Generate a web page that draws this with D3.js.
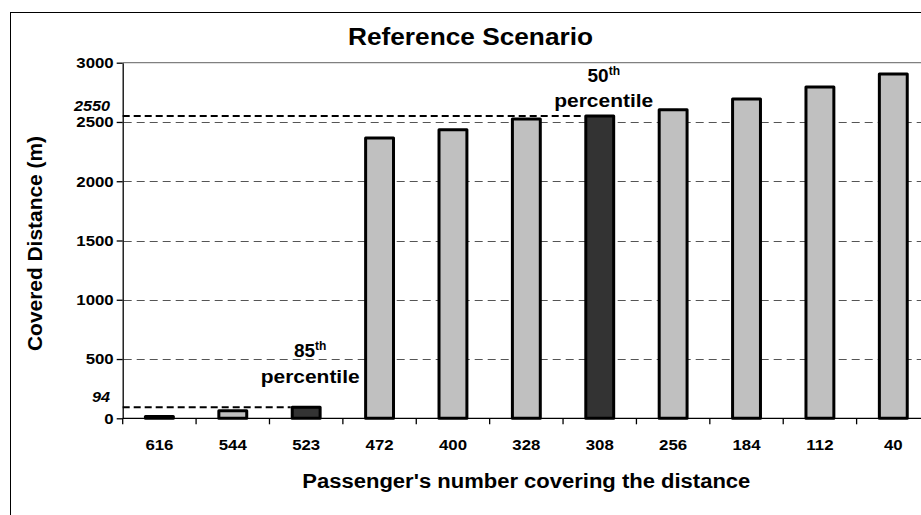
<!DOCTYPE html>
<html>
<head>
<meta charset="utf-8">
<script src="https://cdn.jsdelivr.net/npm/d3@7"></script>
<style>
  html, body { margin: 0; padding: 0; background: #fff; }
  svg { display: block; font-family: "Liberation Sans", Arial, sans-serif; }
</style>
</head>
<body>
<svg id="chart" width="921" height="515"></svg>
<script>
// ---- data ----
const categories = ["616", "544", "523", "472", "400", "328", "308", "256", "184", "112", "40"];
const distances  = [15, 63, 94, 2364, 2435, 2524, 2550, 2603, 2693, 2794, 2904];
const highlighted = ["523", "308"];
const yTickValues = [0, 500, 1000, 1500, 2000, 2500, 3000];
const refValues = [94, 2550];
const refCategories = ["523", "308"];
const annotationNumbers = ["85", "50"];
const annotationCategories = ["523", "308"];
const annotationNumberAt = [520, 2835];      // data units (metres) of label baselines
const annotationWordAt = [300, 2629];
const titleText = "Reference Scenario";
const xTitleText = "Passenger's number covering the distance";
const yTitleText = "Covered Distance (m)";

// ---- layout ----
const W = 921, H = 515;
const plot = { left: 122.7, right: 930, top: 62.7, bottom: 418.3 };
const svg = d3.select("#chart");

const x = d3.scaleBand().domain(categories).range([plot.left, plot.right])
  .paddingInner(0.62).paddingOuter(0.31);
const y = d3.scaleLinear().domain([0, 3000]).range([plot.bottom, plot.top]);
const step = x.step();

function stretch(sel, factor) {
  sel.each(function () {
    const n = this.getComputedTextLength();
    d3.select(this).attr("textLength", n * factor).attr("lengthAdjust", "spacingAndGlyphs");
  });
}

// chart area border
svg.append("rect").attr("x", 10.5).attr("y", 12.5).attr("width", 940).attr("height", 540)
  .attr("fill", "none").attr("stroke", "#000").attr("stroke-width", 1);

// plot top border
svg.append("line").attr("x1", plot.left).attr("x2", plot.right)
  .attr("y1", y(3000)).attr("y2", y(3000)).attr("stroke", "#808080").attr("stroke-width", 1.2);

// gridlines
svg.append("g").selectAll("line").data(yTickValues.filter(v => v > 0 && v < 3000)).join("line")
  .attr("x1", plot.left + 1).attr("x2", plot.right)
  .attr("y1", d => Math.round(y(d)) + 0.5).attr("y2", d => Math.round(y(d)) + 0.5)
  .attr("stroke", "#555").attr("stroke-width", 1).attr("stroke-dasharray", "8,5");

// reference lines
svg.append("g").selectAll("line").data(refValues).join("line")
  .attr("x1", plot.left).attr("x2", (d, i) => x(refCategories[i]) - 1.5)
  .attr("y1", d => y(d)).attr("y2", d => y(d))
  .attr("stroke", "#000").attr("stroke-width", 2).attr("stroke-dasharray", "7,4");

// bars
svg.append("g").selectAll("rect").data(categories).join("rect")
  .attr("x", d => x(d))
  .attr("width", x.bandwidth())
  .attr("y", (d, i) => y(distances[i]))
  .attr("height", (d, i) => y(0) - y(distances[i]))
  .attr("fill", d => highlighted.includes(d) ? "#333333" : "#c0c0c0")
  .attr("stroke", "#000").attr("stroke-width", 3).attr("stroke-linejoin", "round");

// y axis
const yAxis = svg.append("g").attr("transform", `translate(${plot.left},0)`)
  .call(d3.axisLeft(y).tickValues(yTickValues).tickSizeInner(6).tickSizeOuter(0).tickPadding(3).tickFormat(d3.format("d")));
yAxis.select(".domain").attr("stroke", "#000").attr("stroke-width", 1.3);
yAxis.selectAll(".tick line").attr("stroke", "#000").attr("stroke-width", 1.3);
yAxis.selectAll(".tick text").attr("font-size", 15).attr("font-weight", "bold").attr("fill", "#000")
  .attr("font-family", "Liberation Sans, Arial, sans-serif").call(stretch, 1.12);

// italic reference labels
svg.append("g").selectAll("text").data(refValues).join("text")
  .attr("x", 110).attr("y", d => y(d) - 5)
  .attr("text-anchor", "end").attr("font-size", 15).attr("font-weight", "bold").attr("font-style", "italic")
  .text(d => d).call(stretch, 1.08);

// x axis
const xAxis = svg.append("g").attr("transform", `translate(0,${plot.bottom})`)
  .call(d3.axisBottom(x).tickSize(0).tickPadding(0));
xAxis.select(".domain").remove();
svg.append("line").attr("x1", plot.left).attr("x2", plot.right).attr("y1", plot.bottom).attr("y2", plot.bottom)
  .attr("stroke", "#000").attr("stroke-width", 1.3);
svg.append("g").selectAll("line").data(categories).join("line")
  .attr("x1", d => x(d) - step * 0.31).attr("x2", d => x(d) - step * 0.31)
  .attr("y1", plot.bottom).attr("y2", plot.bottom + 6)
  .attr("stroke", "#000").attr("stroke-width", 1.3);
xAxis.selectAll(".tick text").attr("y", 32).attr("dy", 0).attr("font-size", 15).attr("font-weight", "bold")
  .attr("fill", "#000").attr("font-family", "Liberation Sans, Arial, sans-serif").call(stretch, 1.12);

// title
svg.append("text").attr("x", 470.5).attr("y", 45).attr("text-anchor", "middle")
  .attr("font-size", 24).attr("font-weight", "bold").text(titleText)
  .attr("textLength", 245).attr("lengthAdjust", "spacingAndGlyphs");

// axis titles
svg.append("text").attr("x", (plot.left + plot.right) / 2).attr("y", 488).attr("text-anchor", "middle")
  .attr("font-size", 20).attr("font-weight", "bold").text(xTitleText)
  .attr("textLength", 448).attr("lengthAdjust", "spacingAndGlyphs");
svg.append("text").attr("transform", `translate(42,${(plot.top + plot.bottom) / 2 + 3}) rotate(-90)`)
  .attr("text-anchor", "middle").attr("font-size", 20).attr("font-weight", "bold").text(yTitleText)
  .attr("textLength", 215).attr("lengthAdjust", "spacingAndGlyphs");

// percentile annotations
annotationCategories.forEach((c, i) => {
  const cx = x(c) + x.bandwidth() / 2 + 4;
  const t = svg.append("text").attr("x", cx).attr("y", y(annotationNumberAt[i]))
    .attr("text-anchor", "middle").attr("font-size", 19).attr("font-weight", "bold");
  t.append("tspan").text(annotationNumbers[i]);
  t.append("tspan").attr("font-size", 12).attr("dy", -7).text("th");
  svg.append("text").attr("x", cx).attr("y", y(annotationWordAt[i]))
    .attr("text-anchor", "middle").attr("font-size", 19).attr("font-weight", "bold")
    .text("percentile").attr("textLength", 99).attr("lengthAdjust", "spacingAndGlyphs");
});
</script>
</body>
</html>
